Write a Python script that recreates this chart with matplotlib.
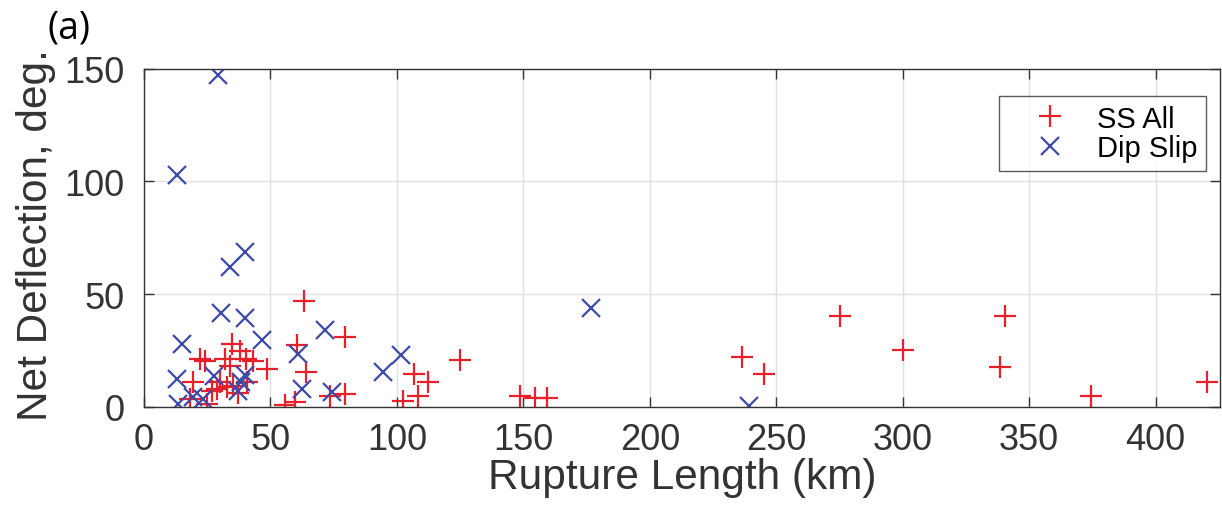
import numpy as np
import matplotlib
matplotlib.use("Agg")
import matplotlib.pyplot as plt

plt.rcParams["font.family"] = ["Liberation Sans", "DejaVu Sans"]

# strike-slip events: rupture length (km), net deflection (deg)
ss_len = [63.1, 79.5, 60.4, 35.0, 22.0, 24.2, 32.1, 38.0, 43.3, 48.5, 34.1,
          19.5, 30.1, 40.7, 28.8, 32.8, 35.4, 37.0, 64.1, 59.8, 55.8, 73.6,
          79.5, 24.8, 18.2, 40.5, 27.0,
          124.8, 106.6, 112.5, 108.5, 102.4, 148.8, 154.7, 159.3,
          236.5, 245.0, 275.1, 300.2, 340.6, 338.6, 374.3, 420.4]
ss_defl = [47.0, 30.8, 27.4, 27.8, 21.0, 20.4, 21.2, 24.9, 20.4, 16.7, 18.2,
           10.8, 10.8, 10.8, 7.9, 8.6, 9.3, 6.0, 15.5, 2.2, 0.8, 4.9,
           5.6, 1.2, 3.4, 21.0, 7.0,
           20.9, 14.5, 11.1, 4.6, 2.4, 4.6, 3.7, 3.7,
           22.2, 14.5, 40.4, 25.3, 40.4, 17.7, 4.6, 11.1]

# dip-slip events
ds_len = [29.4, 13.0, 40.0, 34.1, 30.4, 40.0, 14.9, 46.7, 71.6, 61.1,
          13.0, 27.5, 40.0, 38.5, 37.3, 62.4, 74.3, 13.6, 19.5, 23.5,
          94.7, 101.6, 176.7, 239.4]
ds_defl = [147.3, 102.9, 68.5, 61.8, 41.4, 39.2, 27.7, 29.4, 34.0, 23.4,
           12.3, 13.8, 14.0, 11.0, 7.1, 7.9, 6.4, 1.0, 4.2, 3.4,
           15.3, 23.1, 43.7, 0.4]

red = "#E8202A"
blue = "#3D4AA6"

fig = plt.figure(figsize=(12.22, 5.10), dpi=100)
ax = fig.add_axes([0.1178, 0.2006, 0.8807, 0.6627])

ax.plot(ss_len, ss_defl, "+", color=red, ms=16, mew=1.6, ls="none", label="SS All")
ax.plot(ds_len, ds_defl, "x", color=blue, ms=13, mew=1.6, ls="none", label="Dip Slip")

ax.set_xlim(0, 425.5)
ax.set_ylim(0, 150)
ax.set_xticks(np.arange(0, 401, 50))
ax.set_yticks([0, 50, 100, 150])
ax.grid(True, color="0.88", lw=1)
ax.set_axisbelow(True)
for s in ax.spines.values():
    s.set_color("0.2")
    s.set_linewidth(1.0)
ax.tick_params(direction="in", length=7, width=1, color="0.2", labelsize=26,
               labelcolor="0.2", top=True, right=True)
ax.tick_params(axis="x", pad=11)
ax.tick_params(axis="y", pad=14)
ax.set_xlabel("Rupture Length (km)", fontsize=30.5, color="0.2", labelpad=0)
ax.set_ylabel("Net Deflection, deg.", fontsize=30.5, color="0.2")
ax.yaxis.set_label_coords(-0.082, 0.51)

leg = ax.legend(loc="upper right", bbox_to_anchor=(0.987, 0.92), fontsize=21,
                frameon=True, fancybox=False, handlelength=2.9, handletextpad=0.15,
                borderpad=0.3, labelspacing=0.05, borderaxespad=0.0)
leg.get_frame().set_edgecolor("0.2")
leg.get_frame().set_linewidth(1.0)

fig.text(0.039, 0.945, "(a)", fontsize=27, family="Open Sans", va="center")

fig.savefig("out.png", dpi=100)
